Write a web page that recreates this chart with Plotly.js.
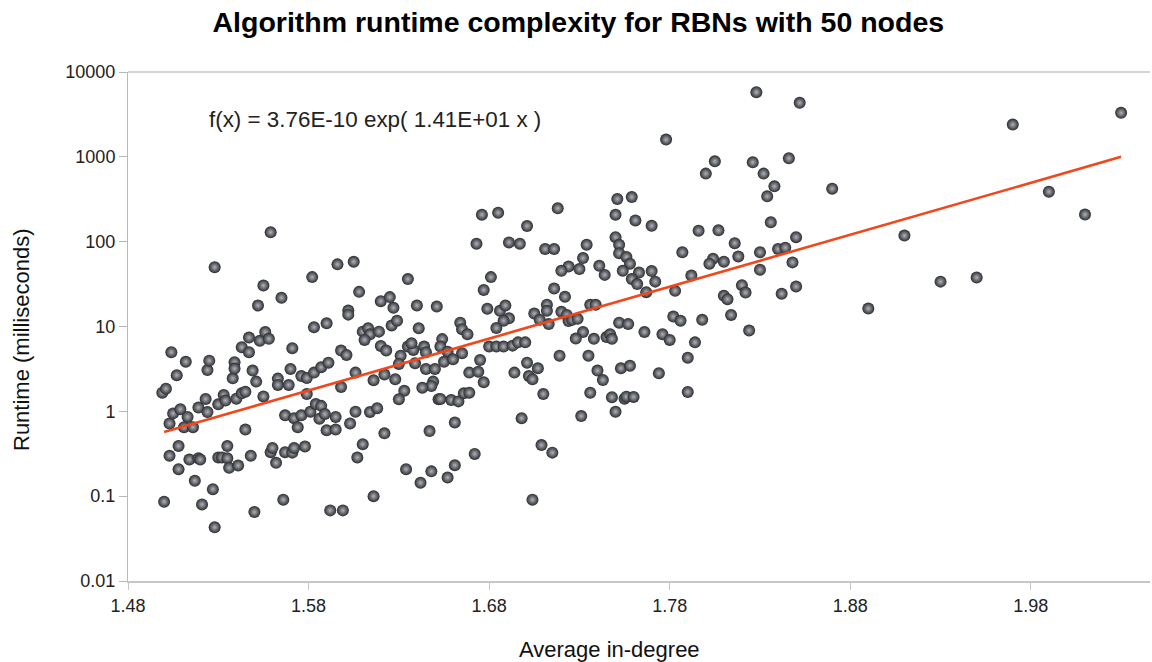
<!DOCTYPE html>
<html>
<head>
<meta charset="utf-8">
<script src="https://cdn.plot.ly/plotly-3.0.1.min.js"></script>
<style>html,body{margin:0;padding:0;background:#fff;}#chart{width:1152px;height:662px;}</style>
</head>
<body>
<div id="chart"></div>
<script>
// Average in-degree (x) and runtime in milliseconds (y)
const avgInDegree = [
1.499,1.501,1.504,1.507,1.512,1.503,1.505,1.509,1.513,1.511,1.516,1.519,1.523,1.524,1.524,1.525,1.530,1.533,1.534,1.538,
1.539,1.539,1.540,1.543,1.545,1.543,1.547,1.547,1.549,1.551,1.555,1.553,1.556,1.558,1.552,1.563,1.563,1.569,1.570,1.571,
1.545,1.567,1.572,1.574,1.503,1.508,1.508,1.514,1.519,1.520,1.517,1.527,1.530,1.532,1.535,1.535,1.536,1.541,1.548,1.559,
1.560,1.562,1.567,1.571,1.572,1.500,1.521,1.528,1.550,1.566,
1.528,1.559,1.555,1.565,
1.582,1.596,1.605,1.608,1.620,1.625,1.627,1.635,1.640,1.651,1.602,1.602,
1.583,1.590,1.610,1.613,1.614,1.619,1.611,1.626,1.629,1.641,1.576,1.579,1.583,1.587,1.591,1.598,1.601,1.606,1.598,1.579,
1.616,1.622,1.628,1.620,1.623,1.631,1.635,1.638,1.637,1.644,1.645,1.630,1.639,1.645,1.650,1.649,1.648,1.643,1.633,1.630,
1.652,1.576,1.581,1.584,1.587,1.586,1.589,1.590,1.595,1.595,1.603,1.606,1.614,1.618,1.622,1.647,1.578,1.610,1.607,1.634,
1.648,1.642,1.592,1.599,1.616,
1.778,1.800,1.805,1.751,1.759,1.750,1.761,1.770,1.718,1.676,1.685,1.701,1.673,1.691,1.697,1.711,1.716,1.734,1.750,1.752,
1.752,1.756,1.758,1.732,1.796,1.807,1.787,1.804,1.802,1.724,1.730,1.720,1.741,1.744,1.754,1.763,1.770,1.759,1.762,1.772,
1.792,1.681,1.677,1.716,1.722,1.767,1.783,1.679,1.686,1.689,1.691,1.688,1.684,1.664,1.665,1.668,1.654,1.705,1.712,1.712,
1.708,1.713,1.720,1.723,1.724,1.726,1.729,1.736,1.739,1.752,1.757,1.766,1.776,1.782,1.786,1.798,1.780,1.794,1.732,1.728,
1.738,1.745,1.747,1.748,1.680,1.684,1.688,1.693,1.696,1.700,
1.653,1.657,1.665,1.655,1.660,1.675,1.669,1.674,1.677,1.653,1.659,1.663,1.666,1.669,1.694,1.701,1.707,1.702,1.704,1.710,
1.719,1.735,1.740,1.743,1.736,1.748,1.755,1.756,1.760,1.750,1.753,1.758,1.774,1.790,1.790,1.661,1.698,1.731,1.709,1.715,
1.672,1.661,1.657,1.704,
1.828,1.852,1.826,1.846,1.832,1.838,1.834,1.870,1.836,1.816,1.818,1.810,1.830,1.840,1.844,1.850,1.848,1.830,1.820,1.822,
1.810,1.812,1.842,1.850,1.814,1.824,1.890,1.910,1.930,1.950,
1.970,2.030,1.990,2.010
];
const runtimeMs = [
1.66,1.85,4.98,2.67,3.84,0.72,0.946,1.06,0.86,0.65,0.65,1.11,1.40,0.98,3.07,3.96,1.21,1.56,1.34,2.45,
3.8,3.19,1.41,1.63,1.70,5.7,7.4,4.98,3.02,2.24,1.50,6.8,8.6,7.15,17.7,2.43,2.05,2.05,3.16,5.55,
0.61,0.90,0.83,0.65,0.30,0.39,0.208,0.27,0.28,0.27,0.152,0.121,0.286,0.286,0.39,0.28,0.216,0.23,0.30,0.33,
0.37,0.247,0.33,0.326,0.37,0.086,0.080,0.043,0.065,0.091,
50,129,30.4,21.8,
38.2,54,58,25.6,19.9,22.2,16.6,36.2,17.7,17.2,15.4,13.8,
9.8,10.9,8.7,9.55,8.1,8.7,6.95,10.3,11.7,9.55,2.61,2.47,2.86,3.31,3.75,5.2,4.62,2.86,1.94,1.60,
2.33,2.71,2.39,5.9,5.2,4.53,5.8,5.3,6.35,5.8,4.98,3.62,3.69,3.16,3.16,2.24,1.99,1.90,1.75,1.39,
1.39,0.90,0.99,1.22,1.16,0.82,0.93,0.60,0.86,0.61,0.72,0.99,0.985,1.09,0.55,0.585,0.385,0.41,0.286,0.208,
0.196,0.144,0.068,0.068,0.10,
1596,634,885,318,336,208,178,154,247,208,219,153,94.5,98,94.5,82,82,92,113,92,
73,66,55,64,134.5,136,75,63,55,51,47.5,45.3,52,40.6,45.3,43.3,45,36.2,31.6,33.8,
39.9,38.2,27,28,22.4,25.4,26.3,16.2,15.3,17.7,12.5,11.7,9.6,11.1,9.3,8.1,7.1,14.2,18.1,15.3,
12,10.7,14.9,13.7,11.6,12,12.3,18,18,11.1,10.7,8.6,8.1,13.1,11.7,12,6.95,6.5,8.6,7.2,
7.15,7.5,8.1,7.15,5.8,5.8,5.8,5.95,6.5,6.5,
5.8,5.05,4.84,3.84,4.11,4.03,2.86,2.93,2.2,1.40,1.36,1.31,1.63,1.66,2.86,3.75,3.22,2.61,2.39,1.60,
4.53,4.53,3.02,2.34,1.66,1.47,1.41,1.49,1.48,0.99,3.22,3.45,2.81,4.29,1.69,0.74,0.83,0.88,0.40,0.326,
0.315,0.232,0.166,0.091,
5775,4330,861,960,634,449,342,421,169,96,67,58,75,82,85,113,57,46.6,30.7,25.1,
23,21,24.3,29.6,13.7,8.95,16.3,118,33.8,37.8,
2400,3300,388,209
];
// Exponential trend line end points
const trendX = [1.50, 2.03];
const trendY = [0.57, 1000];
const xTickVals = [1.48, 1.58, 1.68, 1.78, 1.88, 1.98];
const xTickText = ['1.48', '1.58', '1.68', '1.78', '1.88', '1.98'];
const yTickVals = [0.01, 0.1, 1, 10, 100, 1000, 10000];
const yTickText = ['0.01', '0.1', '1', '10', '100', '1000', '10000'];
const chartTitle = 'Algorithm runtime complexity for RBNs with 50 nodes';
const xTitle = 'Average in-degree';
const yTitle = 'Runtime (milliseconds)';
const equationText = 'f(x) = 3.76E-10 exp( 1.41E+01 x )';

const FONT = 'Liberation Sans, Arial, sans-serif';

const traces = [
  {
    type: 'scatter', mode: 'markers', x: avgInDegree, y: runtimeMs,
    marker: { size: 12, color: '#2a2c30', gradient: { type: 'radial', color: '#b0b3b8' }, line: { width: 0 } },
    hoverinfo: 'x+y', showlegend: false
  },
  {
    type: 'scatter', mode: 'lines', x: trendX, y: trendY,
    line: { color: '#f0481c', width: 2.6 }, showlegend: false, hoverinfo: 'skip'
  }
];

const layout = {
  width: 1152, height: 662,
  margin: { l: 128, r: 2, t: 72, b: 81 },
  paper_bgcolor: '#ffffff', plot_bgcolor: '#ffffff',
  font: { family: FONT, color: '#1a1a1a' },
  title: { text: '<b>' + chartTitle + '</b>', font: { family: FONT, size: 28.5, color: '#000' }, x: 0.502, xanchor: 'center', y: 0.966, yanchor: 'middle' },
  xaxis: {
    range: [1.48, 2.046], tickvals: xTickVals, ticktext: xTickText,
    showgrid: false, zeroline: false, showline: true, linecolor: '#c6c6c6', linewidth: 2,
    ticks: 'outside', ticklen: 7, tickcolor: '#c6c6c6', tickwidth: 1,
    tickfont: { size: 18, color: '#222' }
  },
  yaxis: {
    type: 'log', range: [-2, 4], tickvals: yTickVals, ticktext: yTickText,
    showgrid: false, zeroline: false, showline: true, linecolor: '#b8b8b8', linewidth: 1,
    ticks: 'outside', ticklen: 8, tickcolor: '#b8b8b8', tickwidth: 1,
    tickfont: { size: 18, color: '#222' }
  },
  shapes: [
    { type: 'line', xref: 'paper', yref: 'paper', x0: 0, x1: 1, y0: 1, y1: 1, line: { color: '#c6c6c6', width: 1.5 } }
  ],
  annotations: [
    { text: equationText, xref: 'paper', yref: 'paper', x: 0.077, y: 0.906, xanchor: 'left', yanchor: 'middle', showarrow: false, font: { size: 22.4, color: '#222' } },
    { text: xTitle, xref: 'paper', yref: 'paper', x: 0.4716, y: -0.134, xanchor: 'center', yanchor: 'middle', showarrow: false, font: { size: 22, color: '#111' } },
    { text: yTitle, xref: 'paper', yref: 'paper', x: -0.1037, y: 0.4735, xanchor: 'center', yanchor: 'middle', textangle: -90, showarrow: false, font: { size: 22, color: '#111' } }
  ]
};

Plotly.newPlot('chart', traces, layout, { displayModeBar: false, staticPlot: true });
</script>
</body>
</html>
